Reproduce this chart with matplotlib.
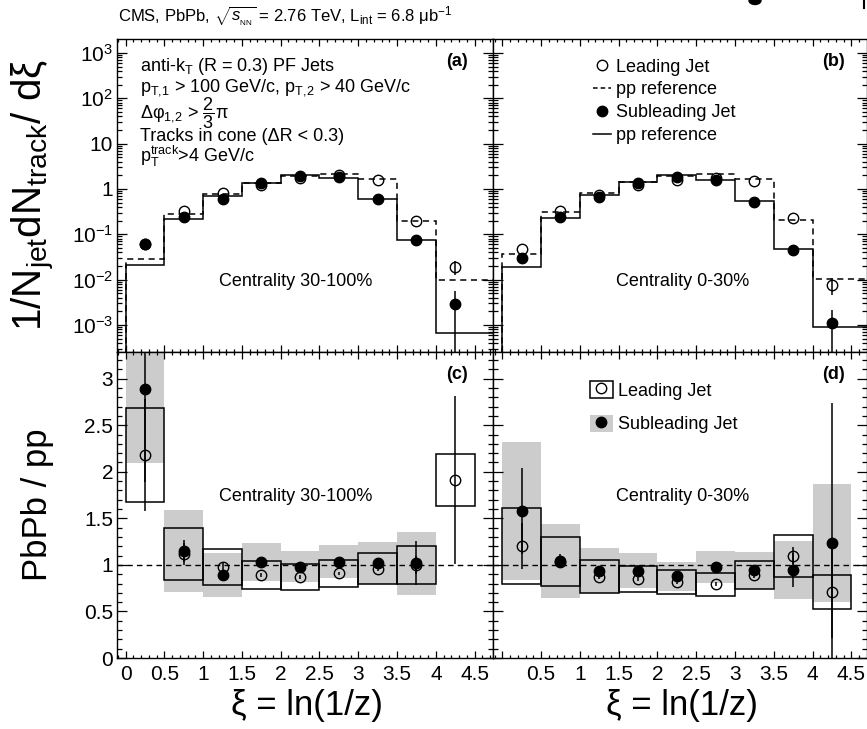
import numpy as np
import matplotlib
matplotlib.use('Agg')
import matplotlib.pyplot as plt
from matplotlib.lines import Line2D
from matplotlib.patches import Patch, Ellipse
from matplotlib.ticker import FixedLocator, MultipleLocator, LogLocator, FuncFormatter, NullFormatter

plt.rcParams['font.family'] = ['Liberation Sans', 'DejaVu Sans']
plt.rcParams['mathtext.fontset'] = 'custom'
plt.rcParams['mathtext.rm'] = 'Liberation Sans'
plt.rcParams['mathtext.it'] = 'Liberation Sans:italic'
plt.rcParams['mathtext.bf'] = 'Liberation Sans:bold'

# xi bins
xi_edges = [0.0, 0.5, 1.0, 1.5, 2.0, 2.5, 3.0, 3.5, 4.0, 4.5]
xi = [0.25, 0.75, 1.25, 1.75, 2.25, 2.75, 3.25, 3.75, 4.25]

# (a) centrality 30-100%, 1/Njet dN/dxi
lead_a = [0.061, 0.327, 0.80, 1.20, 1.70, 2.00, 1.56, 0.194, 0.0194]
lead_a_err = [0, 0, 0, 0, 0, 0, 0, 0, 0.0066]
sub_a = [0.060, 0.245, 0.61, 1.38, 1.94, 1.81, 0.61, 0.075, 0.0029]
sub_a_err = [0, 0, 0, 0, 0, 0, 0, 0, 0.0028]
pp_lead_a = [0.028, 0.285, 0.79, 1.36, 1.97, 2.18, 1.64, 0.194, 0.0099]
pp_sub_a = [0.021, 0.214, 0.69, 1.34, 2.00, 1.72, 0.60, 0.075, 0.00065]

# (b) centrality 0-30%
lead_b = [0.047, 0.33, 0.74, 1.20, 1.55, 1.72, 1.52, 0.23, 0.0076]
lead_b_err = [0, 0, 0, 0, 0, 0, 0, 0, 0.003]
sub_b = [0.030, 0.24, 0.68, 1.36, 1.87, 1.56, 0.52, 0.045, 0.0011]
sub_b_err = [0, 0, 0, 0, 0, 0, 0, 0, 0.00108]
pp_lead_b = [0.037, 0.306, 0.82, 1.43, 1.97, 2.18, 1.69, 0.207, 0.0105]
pp_sub_b = [0.0193, 0.233, 0.72, 1.41, 2.07, 1.58, 0.54, 0.047, 0.0009]

# (c) ratio PbPb/pp, centrality 30-100%
lead_c = [2.18, 1.115, 0.98, 0.894, 0.87, 0.908, 0.96, 1.0, 1.91]
lead_c_err = [0.6, 0.12, 0.04, 0.02, 0.02, 0.02, 0.03, 0.1, 0.9]
lead_c_sys = [0.5, 0.28, 0.195, 0.152, 0.141, 0.145, 0.165, 0.208, 0.28]
sub_c = [2.89, 1.15, 0.89, 1.03, 0.982, 1.036, 1.018, 1.018]
sub_c_err = [1.0, 0.12, 0.04, 0.02, 0.02, 0.02, 0.05, 0.235]
sub_c_sys = [0.80, 0.44, 0.233, 0.203, 0.17, 0.18, 0.226, 0.34]

# (d) ratio PbPb/pp, centrality 0-30%
lead_d = [1.204, 1.036, 0.874, 0.849, 0.814, 0.792, 0.889, 1.10, 0.71]
lead_d_err = [0.25, 0.06, 0.03, 0.02, 0.02, 0.02, 0.03, 0.09, 0.5]
lead_d_sys = [0.41, 0.266, 0.176, 0.144, 0.129, 0.126, 0.152, 0.225, 0.185]
sub_d = [1.577, 1.043, 0.939, 0.939, 0.878, 0.975, 0.943, 0.943, 1.233]
sub_d_err = [0.46, 0.07, 0.03, 0.02, 0.02, 0.02, 0.02, 0.18, 1.51]
sub_d_sys = [0.74, 0.40, 0.242, 0.185, 0.154, 0.17, 0.2, 0.314, 0.636]

GRAY = '#cccccc'
W, H = 867, 729
fig = plt.figure(figsize=(W / 100, H / 100), dpi=100)


def px_axes(x0, y0, x1, y1):
    return fig.add_axes([x0 / W, 1 - y1 / H, (x1 - x0) / W, (y1 - y0) / H])


ax_a = px_axes(117.3, 39.3, 493.3, 351.7)
ax_b = px_axes(493.3, 39.3, 866.5, 351.7)
ax_c = px_axes(117.3, 351.7, 493.3, 658)
ax_d = px_axes(493.3, 351.7, 866.5, 658)

hist_edges = np.array(xi_edges[:-1] + [5.0])


def top_panel(ax, lead, lead_err, sub, sub_err, pp_lead, pp_sub):
    ax.set_yscale('log')
    ax.stairs(pp_sub, hist_edges, baseline=1e-6, color='k', lw=1.1)
    ax.stairs(pp_lead, hist_edges, baseline=1e-6, color='k', lw=1.1, ls=(0, (4, 3)))
    ax.errorbar(xi, lead, yerr=lead_err, fmt='o', ms=7.5, mfc='none', mec='k',
                mew=1.0, ecolor='k', elinewidth=1.1, capsize=0, zorder=4)
    ax.errorbar(xi, sub, yerr=sub_err, fmt='o', ms=7.5, color='k',
                elinewidth=1.1, capsize=0, zorder=5)
    ax.set_ylim(10 ** -3.59, 10 ** 3.30)
    ax.yaxis.set_major_locator(FixedLocator([1e-3, 1e-2, 1e-1, 1, 10, 100, 1000]))
    ax.yaxis.set_minor_locator(LogLocator(base=10, subs=np.arange(2, 10), numticks=30))
    ax.yaxis.set_minor_formatter(NullFormatter())


def bottom_panel(ax, lead, lead_err, lead_sys, sub, sub_err, sub_sys):
    ns = len(sub)
    ax.bar(xi[:ns], [2 * s for s in sub_sys], bottom=[v - s for v, s in zip(sub, sub_sys)],
           width=0.5, color=GRAY, lw=0, zorder=1)
    ax.bar(xi, [2 * s for s in lead_sys], bottom=[v - s for v, s in zip(lead, lead_sys)],
           width=0.5, fill=False, edgecolor='k', lw=1.1, zorder=2)
    ax.axhline(1, color='k', lw=1.0, ls=(0, (4, 3)), zorder=3)
    ax.errorbar(xi, lead, yerr=lead_err, fmt='o', ms=7.5, mfc='none', mec='k',
                mew=1.0, ecolor='k', elinewidth=1.1, capsize=0, zorder=4)
    ax.errorbar(xi[:ns], sub, yerr=sub_err, fmt='o', ms=7.5, color='k',
                elinewidth=1.1, capsize=0, zorder=5)
    ax.set_ylim(0, 3.29)
    ax.yaxis.set_major_locator(MultipleLocator(0.5))
    ax.yaxis.set_minor_locator(MultipleLocator(0.1))


top_panel(ax_a, lead_a, lead_a_err, sub_a, sub_a_err, pp_lead_a, pp_sub_a)
top_panel(ax_b, lead_b, lead_b_err, sub_b, sub_b_err, pp_lead_b, pp_sub_b)
bottom_panel(ax_c, lead_c, lead_c_err, lead_c_sys, sub_c, sub_c_err, sub_c_sys)
bottom_panel(ax_d, lead_d, lead_d_err, lead_d_sys, sub_d, sub_d_err, sub_d_sys)

ax_a.set_xlim(-0.106, 4.74)
ax_c.set_xlim(-0.106, 4.74)
ax_b.set_xlim(-0.116, 4.695)
ax_d.set_xlim(-0.116, 4.695)


def decade(v, pos):
    e = int(round(np.log10(v)))
    if e == 0:
        return '1'
    if e == 1:
        return '10'
    return '$10^{%d}$' % e


for ax in (ax_a, ax_b, ax_c, ax_d):
    ax.xaxis.set_major_locator(MultipleLocator(0.5))
    ax.xaxis.set_minor_locator(MultipleLocator(0.1))
    ax.tick_params(which='both', direction='in', top=True, right=True,
                   labelsize=15, width=0.9)
    ax.tick_params(axis='x', which='major', length=5, pad=5)
    ax.tick_params(axis='x', which='minor', length=2.5)
    ax.tick_params(axis='y', which='major', length=7, pad=3)
    ax.tick_params(axis='y', which='minor', length=3.5)
    for sp in ax.spines.values():
        sp.set_linewidth(1.0)

ax_a.yaxis.set_major_formatter(FuncFormatter(decade))
ax_a.tick_params(labelbottom=False)
ax_b.tick_params(labelbottom=False, labelleft=False)
ax_d.tick_params(labelleft=False)
ax_c.xaxis.set_major_formatter(FuncFormatter(lambda v, p: '%g' % round(v, 2)))
ax_d.xaxis.set_major_formatter(FuncFormatter(lambda v, p: '' if abs(v) < 1e-6 else '%g' % round(v, 2)))
ax_c.yaxis.set_major_formatter(FuncFormatter(lambda v, p: '%g' % round(v, 2)))

fs = 13
ax_a.text(0.060, 0.898, 'anti-k$_{\\rm T}$ (R = 0.3) PF Jets', transform=ax_a.transAxes, fontsize=fs)
ax_a.text(0.060, 0.834, 'p$_{\\rm T,\\!1}$ > 100 GeV/c, p$_{\\rm T,\\!2}$ > 40 GeV/c',
          transform=ax_a.transAxes, fontsize=fs)
ax_a.text(0.060, 0.748, 'Δφ$_{1,\\!2}$ > $\\dfrac{2}{3}$π', transform=ax_a.transAxes, fontsize=fs)
ax_a.text(0.060, 0.676, 'Tracks in cone (ΔR < 0.3)', transform=ax_a.transAxes, fontsize=fs)
ax_a.text(0.060, 0.606, 'p$_{\\rm T}^{\\rm track}$>4 GeV/c', transform=ax_a.transAxes, fontsize=fs)

for ax, lab in ((ax_a, '(a)'), (ax_b, '(b)')):
    x = 0.903 if ax is ax_a else 0.911
    ax.text(x, 0.93, lab, transform=ax.transAxes, fontsize=fs, fontweight='bold', ha='center', va='center')
for ax, lab in ((ax_c, '(c)'), (ax_d, '(d)')):
    x = 0.903 if ax is ax_c else 0.911
    ax.text(x, 0.927, lab, transform=ax.transAxes, fontsize=fs, fontweight='bold', ha='center', va='center')

ax_a.text(0.475, 0.224, 'Centrality 30-100%', transform=ax_a.transAxes, fontsize=fs, ha='center', va='center')
ax_c.text(0.475, 0.527, 'Centrality 30-100%', transform=ax_c.transAxes, fontsize=fs, ha='center', va='center')
ax_b.text(0.507, 0.224, 'Centrality 0-30%', transform=ax_b.transAxes, fontsize=fs, ha='center', va='center')
ax_d.text(0.507, 0.527, 'Centrality 0-30%', transform=ax_d.transAxes, fontsize=fs, ha='center', va='center')

# legends
open_mk = Line2D([], [], marker='o', ls='none', mfc='none', mec='k', mew=1.0, ms=7.5)
full_mk = Line2D([], [], marker='o', ls='none', color='k', ms=7.5)
ax_b.legend([open_mk, Line2D([], [], color='k', lw=1.1, ls=(0, (3, 2))), full_mk,
             Line2D([], [], color='k', lw=1.1)],
            ['Leading Jet', 'pp reference', 'Subleading Jet', 'pp reference'],
            loc='upper left', bbox_to_anchor=(0.267, 0.938), frameon=False, fontsize=fs,
            handlelength=1.0, handletextpad=0.25, labelspacing=0.32, borderpad=0, borderaxespad=0)
ax_d.legend([(Patch(fc='white', ec='k', lw=1.1), open_mk), (Patch(fc=GRAY, ec='none'), full_mk)],
            ['Leading Jet', 'Subleading Jet'],
            loc='upper left', bbox_to_anchor=(0.259, 0.905), frameon=False, fontsize=fs,
            handlelength=1.25, handleheight=1.1, handletextpad=0.3, labelspacing=0.83,
            borderpad=0, borderaxespad=0)

fig.text(118 / W, 1 - 17 / H, 'CMS, PbPb, $\\sqrt{s_{_{\\rm NN}}}$ = 2.76 TeV, L$_{\\rm int}$ = 6.8 μb$^{-1}$',
         fontsize=12, va='center', ha='left')
fig.text(34 / W, 1 - 195 / H, '1/N$_{\\rm jet}$dN$_{\\rm track}$/ dξ', rotation=90,
         fontsize=29, ha='center', va='center')
fig.text(37 / W, 1 - 505 / H, 'PbPb / pp', rotation=90, fontsize=25, ha='center', va='center')
fig.text(307 / W, 1 - 705 / H, 'ξ = ln(1/z)', fontsize=25, ha='center', va='center')
fig.text(682 / W, 1 - 705 / H, 'ξ = ln(1/z)', fontsize=25, ha='center', va='center')

# cropped pieces of artwork above the frame at the top edge
fig.patches.append(Ellipse((755 / W, 1 - 0.5 / H), 12 / W, 8 / H, transform=fig.transFigure,
                           color='k', figure=fig))
fig.add_artist(Line2D([864 / W, 864 / W], [1, 1 - 8 / H], color='k', lw=1.5, transform=fig.transFigure))

fig.savefig('out.png', dpi=100)
